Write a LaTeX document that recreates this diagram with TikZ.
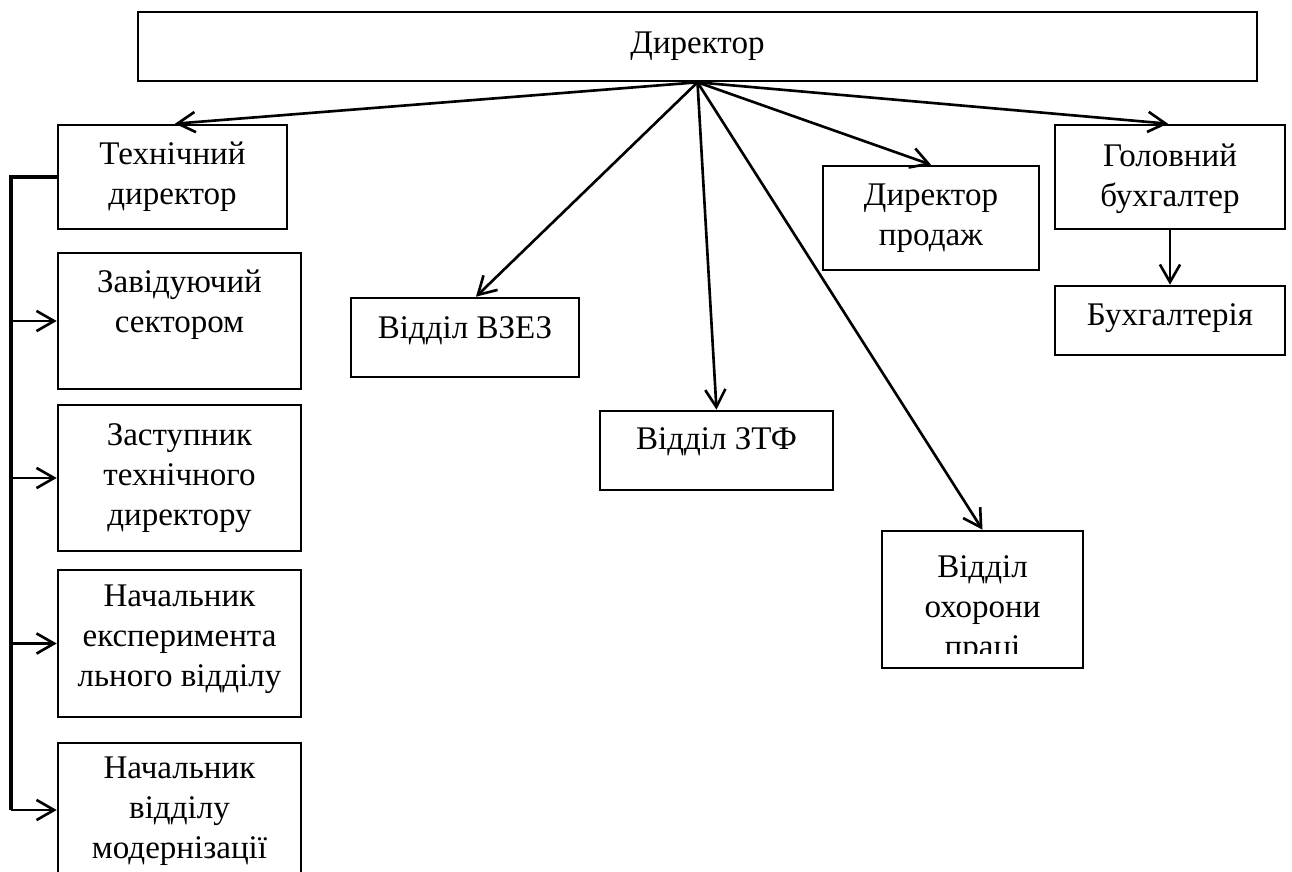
\documentclass[tikz,border=0pt]{standalone}
\usepackage{fontspec}
\setmainfont{Liberation Serif}
\usetikzlibrary{arrows.meta, calc}

\begin{document}
\begin{tikzpicture}[
        x=0.02cm, y=-0.02cm,
        box/.style={rectangle, draw=black, line width=1.5pt, inner sep=0pt},
        txt/.style={align=center, inner sep=0pt, font=\fontsize{18.8}{22.7}\selectfont},
        arr/.style={-{Straight Barb[length=10pt, width=11.5pt]}, line width=1.5pt},
        bus/.style={line width=2pt}
    ]
        \useasboundingbox (0,0) rectangle (1292,872);
        \clip (0,0) rectangle (1292,872);

        % top
        \node[box, minimum width=22.38cm, minimum height=1.38cm] (dir) at (697.5,46.5) {};
        \node[txt] (dirt) at (697.5,46) {Директор};

        % left column
        \node[box, minimum width=4.58cm, minimum height=2.08cm] (tech) at (172.5,177) {};
        \node[txt] (techt) at (172.5,177) {Технічний\\директор};
        \node[box, minimum width=4.86cm, minimum height=2.72cm] (zav) at (179.5,321) {};
        \node[txt] (zavt) at (179.5,305) {Завідуючий\\сектором};
        \node[box, minimum width=4.86cm, minimum height=2.92cm] (zast) at (179.5,478) {};
        \node[txt] (zastt) at (179.5,478) {Заступник\\технічного\\директору};
        \node[box, minimum width=4.86cm, minimum height=2.94cm] (nexp) at (179.5,643.5) {};
        \node[txt] (nexpt) at (179.5,639) {Начальник\\експеримента\\льного відділу};
        \node[box, minimum width=4.86cm, minimum height=2.68cm] (nmod) at (179.5,810) {};
        \node[txt] (nmodt) at (179.5,811) {Начальник\\відділу\\модернізації};

        % middle
        \node[box, minimum width=4.56cm, minimum height=1.58cm] (vzez) at (465,337.5) {};
        \node[txt] (vzezt) at (465,331) {Відділ ВЗЕЗ};
        \node[box, minimum width=4.66cm, minimum height=1.58cm] (ztf) at (716.5,450.5) {};
        \node[txt] (ztft) at (716.5,442) {Відділ ЗТФ};
        \node[box, minimum width=4.02cm, minimum height=2.74cm] (vop) at (982.5,599.5) {};
        \begin{scope}
            \clip (882,531) rectangle (1083,653);
            \node[txt] (vopt) at (982.5,610) {Відділ\\охорони\\праці};
        \end{scope}

        % right
        \node[box, minimum width=4.32cm, minimum height=2.08cm] (prod) at (931,218) {};
        \node[txt] (prodt) at (931,218) {Директор\\продаж};
        \node[box, minimum width=4.6cm, minimum height=2.08cm] (gb) at (1170,177) {};
        \node[txt] (gbt) at (1170,179) {Головний\\бухгалтер};
        \node[box, minimum width=4.6cm, minimum height=1.38cm] (buh) at (1170,320.5) {};
        \node[txt] (buht) at (1170,318) {Бухгалтерія};

        % arrows from the director
        \draw[arr] (dir.south) -- ($(tech.north)+(2.5,0)$);
        \draw[arr] (dir.south) -- ($(vzez.north)+(11,0)$);
        \draw[arr] (dir.south) -- (ztf.north);
        \draw[arr] (dir.south) -- (vop.north);
        \draw[arr] (dir.south) -- (prod.north);
        \draw[arr] (dir.south) -- ($(gb.north)+(-2,0)$);
        \draw[arr] (gb.south) -- (buh.north);

        % bus on the left
        \coordinate (bus) at (11,0);
        \draw[bus] (tech.west) -- (tech.west -| bus) -- (nmod.west -| bus);
        \draw[arr] (zav.west -| bus) -- (zav.west);
        \draw[arr] (zast.west -| bus) -- (zast.west);
        \draw[arr] (nexp.west -| bus) -- (nexp.west);
        \draw[arr] (nmod.west -| bus) -- (nmod.west);
    \end{tikzpicture}
\end{document}
